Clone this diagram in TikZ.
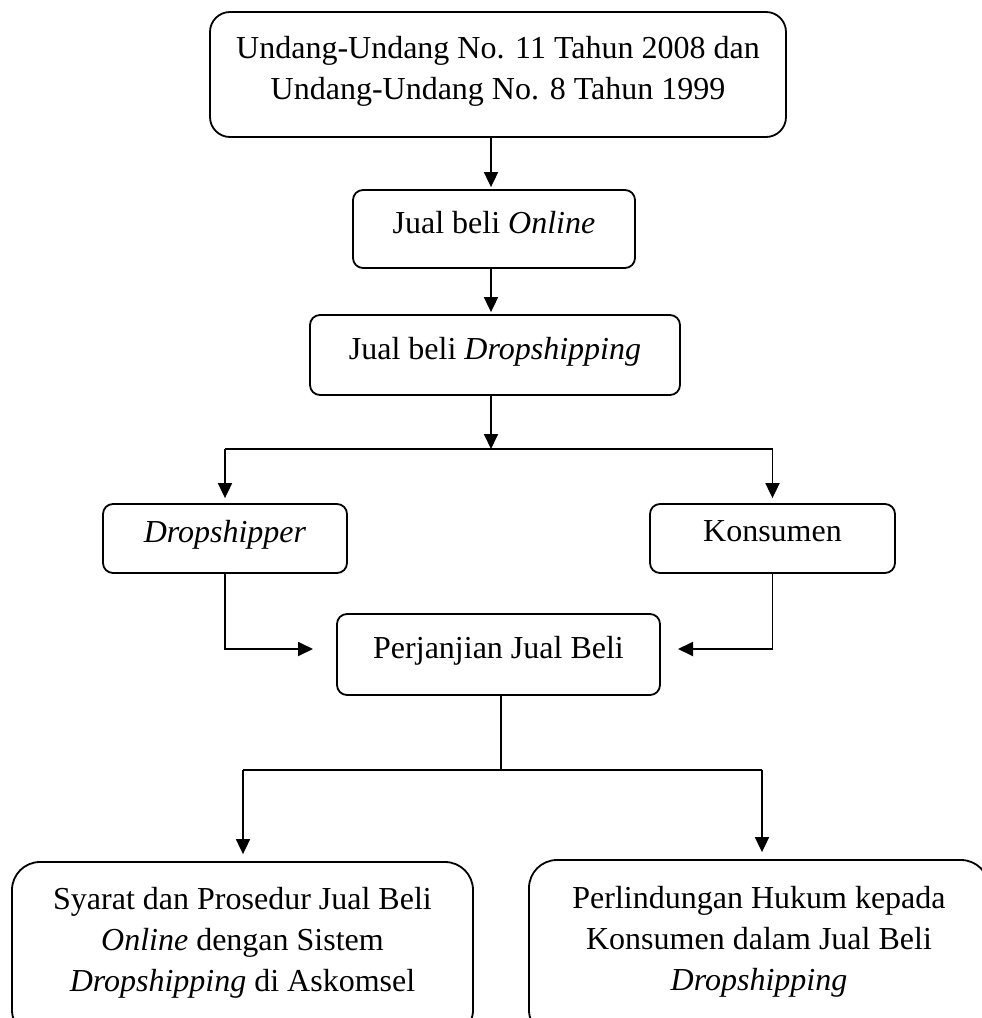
\documentclass[tikz,border=0pt]{standalone}
\usepackage{fontspec}
\setmainfont{Liberation Serif}
\usetikzlibrary{arrows.meta, positioning}

\begin{document}
\begin{tikzpicture}[
  x=1pt, y=-1pt,
  box/.style={draw, line width=1.8pt, rounded corners=10pt, align=center, inner sep=0pt,
              font=\fontsize{32}{41}\selectfont, execute at end node={\rule[-14pt]{0pt}{0pt}}},
  bigbox/.style={box, rounded corners=28pt, execute at end node={\rule[-22pt]{0pt}{0pt}}},
  arrow/.style={-{Triangle[length=15pt,width=14pt]}, line width=1.8pt},
  link/.style={line width=1.8pt}
]
\useasboundingbox (0,0) rectangle (982,1018);
\clip (0,0) rectangle (982,1018);

% Top chain
\node[box, rounded corners=20pt, minimum width=576pt, minimum height=125pt] (law) at (498,74.5)
  {Undang-Undang No. 11 Tahun 2008 dan\\Undang-Undang No. 8 Tahun 1999};
\node[box, minimum width=282pt, minimum height=78pt] (online) at (494,229) {Jual beli \textit{Online}};
\node[box, minimum width=370pt, minimum height=80pt] (jualdrop) at (495,355) {Jual beli \textit{Dropshipping}};

% Parties
\node[box, minimum width=244pt, minimum height=69pt] (dropshipper) at (225,538.5) {\textit{Dropshipper}};
\node[box, minimum width=245pt, minimum height=69pt] (konsumen) at (772.5,538.5) {Konsumen};
\node[box, minimum width=323pt, minimum height=81pt] (perjanjian) at (498.5,654.5) {Perjanjian Jual Beli};

% Results
\node[bigbox, minimum width=461pt, minimum height=176pt] (syarat) at (242.5,950)
  {Syarat dan Prosedur Jual Beli\\\textit{Online} dengan Sistem\\\textit{Dropshipping} di Askomsel};
\node[bigbox, minimum width=460pt, minimum height=178pt] (perlindungan) at (759,949)
  {Perlindungan Hukum kepada\\Konsumen dalam Jual Beli\\\textit{Dropshipping}};

% Junctions
\coordinate (fork) at (491,449);
\coordinate (pinL) at (313,649);
\coordinate (pinR) at (678,649);
\coordinate (join) at (501,770);
\coordinate (joinL) at (243,770);
\coordinate (joinR) at (762,770);

% Arrows
\draw[arrow, shorten >=2pt] (law.south -| fork) -- (online.north -| fork);
\draw[arrow, shorten >=2pt] (online.south -| fork) -- (jualdrop.north -| fork);
\draw[arrow] (jualdrop.south -| fork) -- (fork);
\draw[link] (dropshipper.north |- fork) -- (konsumen.north |- fork);
\draw[arrow, shorten >=5pt] (dropshipper.north |- fork) -- (dropshipper.north);
\draw[arrow, shorten >=5pt] (konsumen.north |- fork) -- (konsumen.north);
\draw[arrow] (dropshipper.south) |- (pinL);
\draw[arrow] (konsumen.south) |- (pinR);
\draw[link] (perjanjian.south -| join) -- (join);
\draw[link] (joinL) -- (joinR);
\draw[arrow, shorten >=7pt] (joinL) -- (syarat.north -| joinL);
\draw[arrow, shorten >=7pt] (joinR) -- (perlindungan.north -| joinR);

\end{tikzpicture}
\end{document}
